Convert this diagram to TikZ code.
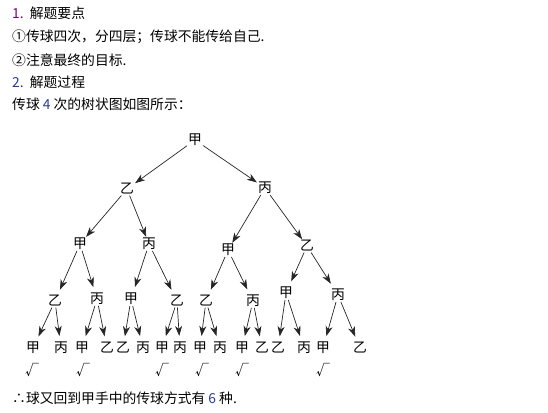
\documentclass[tikz,border=0pt]{standalone}
\usepackage{fontspec}
\setmainfont{Noto Sans CJK SC}
\usetikzlibrary{arrows.meta}
\definecolor{numviola}{RGB}{128,0,128}
\definecolor{numblu}{RGB}{40,60,150}
\tikzset{
  pers/.style={inner sep=1pt, font=\fontsize{13.8}{14}\selectfont},
  riga/.style={anchor=west, inner sep=0pt, font=\fontsize{13.8}{14}\selectfont},
  pass/.style={-{Stealth[length=10pt,width=7pt,inset=3pt]}, line width=0.7pt, black!85},
  lontano/.style={shorten >=5pt}
}
\begin{document}
\begin{tikzpicture}[x=1pt, y=-1pt, line cap=round, line join=round]
  \useasboundingbox (0,0) rectangle (548,412);

  % testo
  \node[riga] (h1) at (12,13) {\textcolor{numviola}{1.}\ \ 解题要点};
  \node[riga] (h2) at (12,37) {①传球四次，分四层；传球不能传给自己.};
  \node[riga] (h3) at (12,60) {②注意最终的目标.};
  \node[riga] (h4) at (12,82) {\textcolor{numblu}{2.}\ \ 解题过程};
  \node[riga] (h5) at (12,104) {传球 \textcolor{numblu}{4} 次的树状图如图所示：};

  % primo e secondo passaggio
  \node[pers] (r) at (195,140) {甲};
  \node[pers] (a1) at (127,189) {乙};
  \node[pers] (a2) at (265,188) {丙};
  \node[pers] (b1) at (80,244) {甲};
  \node[pers] (b2) at (149,244) {丙};
  \node[pers] (b3) at (228,250) {甲};
  \node[pers] (b4) at (307,246) {乙};

  % terzo passaggio
  \node[pers] (c1) at (55,301) {乙};
  \node[pers] (c2) at (97,299) {丙};
  \node[pers] (c3) at (131,299) {甲};
  \node[pers] (c4) at (177,301) {乙};
  \node[pers] (c5) at (206,301) {乙};
  \node[pers] (c6) at (253,301) {丙};
  \node[pers] (c7) at (286,293) {甲};
  \node[pers] (c8) at (338,295) {丙};

  % quarto passaggio
  \node[pers] (d1) at (33,348) {甲};
  \node[pers] (d2) at (61,348) {丙};
  \node[pers] (d3) at (82,348) {甲};
  \node[pers] (d4) at (107,348) {乙};
  \node[pers] (d5) at (123,348) {乙};
  \node[pers] (d6) at (143,348) {丙};
  \node[pers] (d7) at (162,348) {甲};
  \node[pers] (d8) at (180,348) {丙};
  \node[pers] (d9) at (200,348) {甲};
  \node[pers] (d10) at (220,348) {丙};
  \node[pers] (d11) at (242,348) {甲};
  \node[pers] (d12) at (262,348) {乙};
  \node[pers] (d13) at (278,348) {乙};
  \node[pers] (d14) at (304,348) {丙};
  \node[pers] (d15) at (323,348) {甲};
  \node[pers] (d16) at (360,348) {乙};

  % palla di nuovo a 甲
  \node[pers] (ok1) at (32,370) {√};
  \node[pers] (ok2) at (83,370) {√};
  \node[pers] (ok3) at (162,370) {√};
  \node[pers] (ok4) at (202,370) {√};
  \node[pers] (ok5) at (242,370) {√};
  \node[pers] (ok6) at (323,370) {√};

  % frecce
  \draw[pass] (r) edge (a1) edge (a2);
  \draw[pass] (a1) edge (b1) edge (b2);
  \draw[pass] (a2) edge (b3) edge (b4);
  \draw[pass, lontano] (b1) edge (c1) edge (c2);
  \draw[pass, lontano] (b2) edge (c3) edge (c4);
  \draw[pass, lontano] (b3) edge (c5) edge (c6);
  \draw[pass, lontano] (b4) edge (c7) edge (c8);
  \draw[pass, lontano] (c1) edge (d1) edge (d2);
  \draw[pass, lontano] (c2) edge (d3) edge (d4);
  \draw[pass, lontano] (c3) edge (d5) edge (d6);
  \draw[pass, lontano] (c4) edge (d7) edge (d8);
  \draw[pass, lontano] (c5) edge (d9) edge (d10);
  \draw[pass, lontano] (c6) edge (d11) edge (d12);
  \draw[pass, lontano] (c7) edge (d13) edge (d14);
  \draw[pass, lontano] (c8) edge (d15) edge (d16);

  % conclusione
  \node[riga] (fine) at (12,398) {∴球又回到甲手中的传球方式有 \textcolor{numblu}{6} 种.};
\end{tikzpicture}
\end{document}
